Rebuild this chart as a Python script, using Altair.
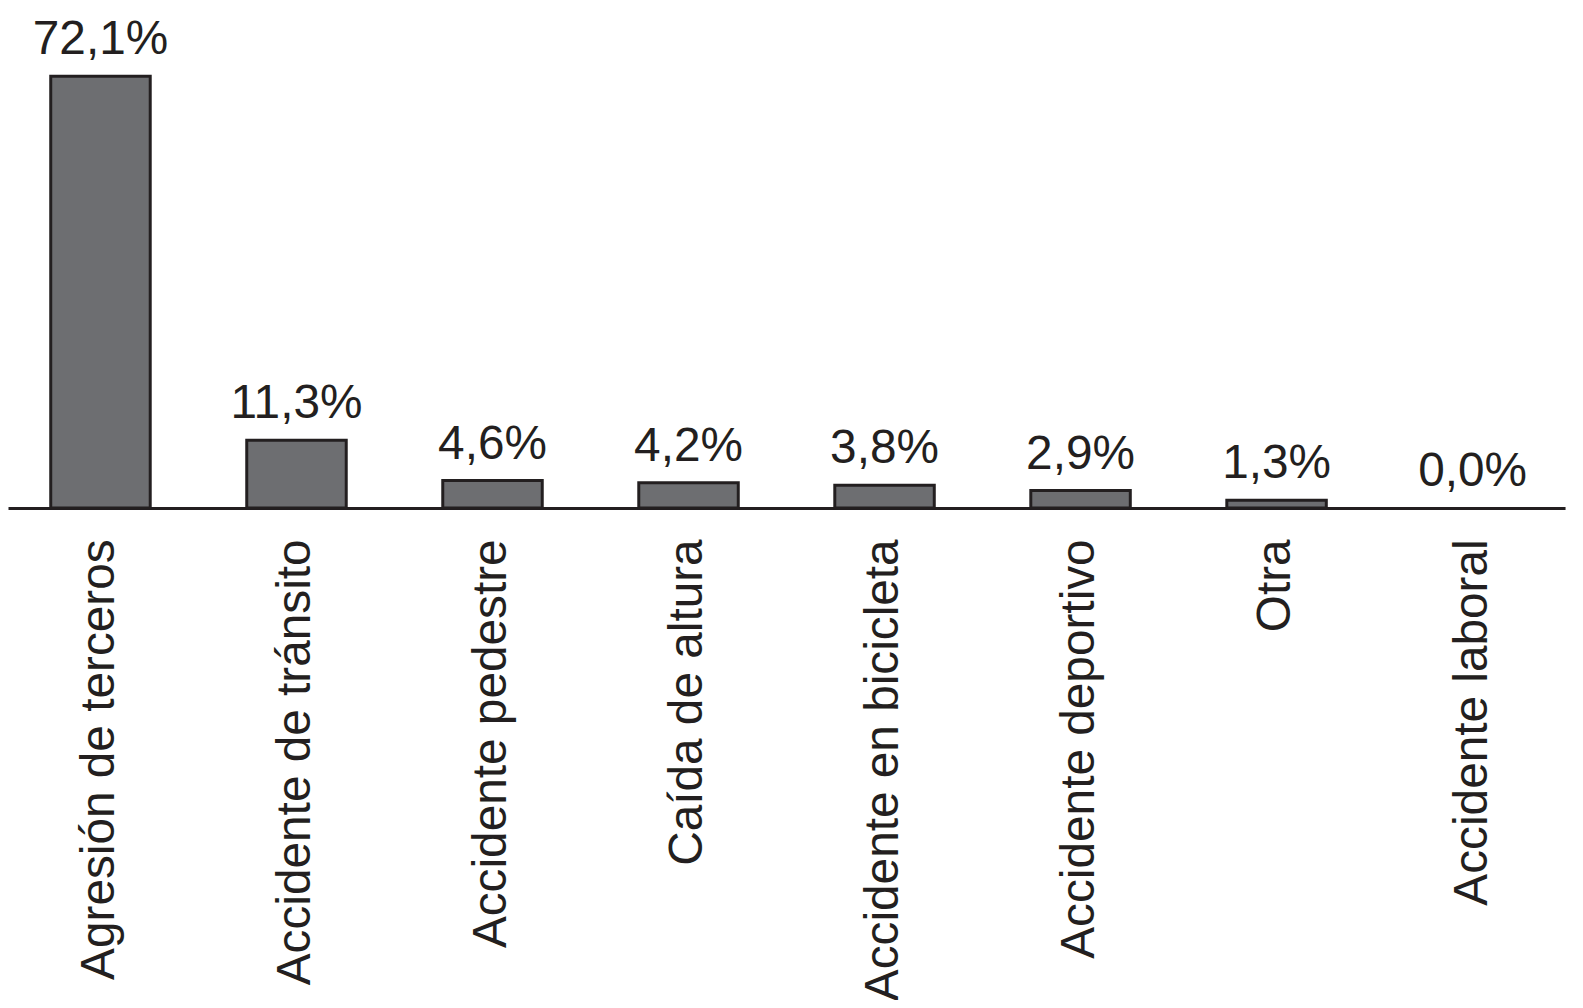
import altair as alt
import pandas as pd

categories = ["Agresión de terceros", "Accidente de tránsito", "Accidente pedestre",
              "Caída de altura", "Accidente en bicicleta", "Accidente deportivo",
              "Otra", "Accidente laboral"]
values = [72.1, 11.3, 4.6, 4.2, 3.8, 2.9, 1.3, 0.0]
labels = ["72,1%", "11,3%", "4,6%", "4,2%", "3,8%", "2,9%", "1,3%", "0,0%"]

df = pd.DataFrame({"cat": categories, "val": values, "lab": labels})

FONT = "Liberation Sans"
x = alt.X("cat:N", sort=categories, title=None,
          scale=alt.Scale(paddingInner=0.4924, paddingOuter=0.218),
          axis=alt.Axis(labelAngle=-90, labelFontSize=48, labelFont=FONT,
                        labelColor="#231f20", labelPadding=31, ticks=False,
                        tickSize=0, labelLimit=1000, domainColor="#231f20",
                        domainWidth=3, grid=False, labelAlign="right",
                        labelBaseline="middle"))
y = alt.Y("val:Q", title=None, scale=alt.Scale(domain=[0, 72.1], nice=False),
          axis=None)

bars = alt.Chart(df).mark_bar(color="#6d6e71", stroke="#231f20",
                              strokeWidth=3).encode(
    x=x, y=y,
    strokeOpacity=alt.condition("datum.val > 0", alt.value(1), alt.value(0)))
text = alt.Chart(df).mark_text(fontSize=48, font=FONT, color="#231f20",
                               baseline="alphabetic", dy=-22).encode(
    x=alt.X("cat:N", sort=categories), y="val:Q", text="lab:N")

chart = (bars + text).properties(
    width=1565, height=434,
    autosize=alt.AutoSizeParams(type="none"),
    padding={"left": 0, "top": 66, "right": 10, "bottom": 492},
).configure(background="white").configure_view(strokeWidth=0)

chart.save("out.html", embed_options={"renderer": "svg", "actions": False})
